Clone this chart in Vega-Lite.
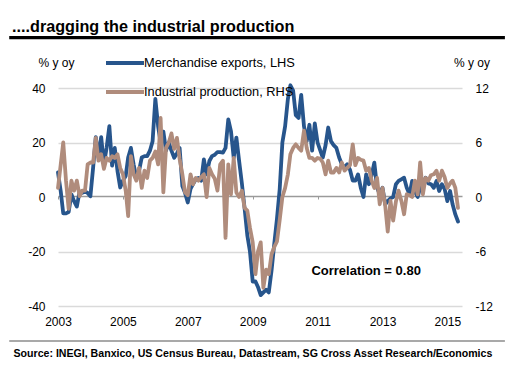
{
"$schema": "https://vega.github.io/schema/vega-lite/v6.json",
"width": 404, "height": 218,
"autosize": {"type": "none"},
"padding": {"left": 58, "top": 88, "right": 64, "bottom": 76},
"background": "white",
"config": {"view": {"stroke": null}, "font": "Liberation Sans"},
"title": {"text": "....dragging the industrial production", "anchor": "start", "frame": "group", "fontSize": 16.2, "fontWeight": "bold", "color": "black", "font": "Liberation Sans", "baseline": "alphabetic", "dx": -46, "offset": -12},
"data": {"values": [
{"date":"2003-01-01","exports":9,"production":1},{"date":"2003-02-01","exports":2,"production":3.6},{"date":"2003-03-01","exports":-6,"production":6},{"date":"2003-04-01","exports":-6,"production":1.8},{"date":"2003-05-01","exports":-5.5,"production":-1.3},{"date":"2003-06-01","exports":1,"production":1.8},{"date":"2003-07-01","exports":-1.5,"production":0.7},{"date":"2003-08-01","exports":-3.5,"production":1.8},{"date":"2003-09-01","exports":2,"production":0.1},{"date":"2003-10-01","exports":1.5,"production":0.7},{"date":"2003-11-01","exports":2,"production":0.7},{"date":"2003-12-01","exports":1.5,"production":3.6},
{"date":"2004-01-01","exports":0.3,"production":3.8},{"date":"2004-02-01","exports":11,"production":3.8},{"date":"2004-03-01","exports":22,"production":6.5},{"date":"2004-04-01","exports":14.5,"production":4},{"date":"2004-05-01","exports":22,"production":4.7},{"date":"2004-06-01","exports":12,"production":3.1},{"date":"2004-07-01","exports":18,"production":4.3},{"date":"2004-08-01","exports":26,"production":4},{"date":"2004-09-01","exports":11.5,"production":4.5},{"date":"2004-10-01","exports":18,"production":4.3},{"date":"2004-11-01","exports":9.5,"production":4.7},{"date":"2004-12-01","exports":3.5,"production":3.2},
{"date":"2005-01-01","exports":6,"production":2.5},{"date":"2005-02-01","exports":7.7,"production":0.7},{"date":"2005-03-01","exports":14.5,"production":-2.1},{"date":"2005-04-01","exports":18,"production":4.5},{"date":"2005-05-01","exports":12,"production":2.5},{"date":"2005-06-01","exports":7,"production":1.8},{"date":"2005-07-01","exports":9.5,"production":3.2},{"date":"2005-08-01","exports":14.5,"production":1},{"date":"2005-09-01","exports":15,"production":2.9},{"date":"2005-10-01","exports":15,"production":2.1},{"date":"2005-11-01","exports":17,"production":4},{"date":"2005-12-01","exports":20.5,"production":4.3},
{"date":"2006-01-01","exports":36,"production":5},{"date":"2006-02-01","exports":26,"production":3.6},{"date":"2006-03-01","exports":20,"production":8.7},{"date":"2006-04-01","exports":24,"production":0.5},{"date":"2006-05-01","exports":17,"production":5.4},{"date":"2006-06-01","exports":20,"production":6},{"date":"2006-07-01","exports":17,"production":7},{"date":"2006-08-01","exports":14.4,"production":5.3},{"date":"2006-09-01","exports":16,"production":6.5},{"date":"2006-10-01","exports":18,"production":4.2},{"date":"2006-11-01","exports":4,"production":2.5},{"date":"2006-12-01","exports":1.5,"production":0.5},
{"date":"2007-01-01","exports":-2,"production":0.2},{"date":"2007-02-01","exports":3,"production":2.5},{"date":"2007-03-01","exports":4.7,"production":1.4},{"date":"2007-04-01","exports":6.5,"production":2.1},{"date":"2007-05-01","exports":7,"production":1.8},{"date":"2007-06-01","exports":6,"production":2.2},{"date":"2007-07-01","exports":13.8,"production":2.5},{"date":"2007-08-01","exports":8.3,"production":0},{"date":"2007-09-01","exports":13.2,"production":3.2},{"date":"2007-10-01","exports":15,"production":2.5},{"date":"2007-11-01","exports":15.5,"production":2},{"date":"2007-12-01","exports":16.5,"production":0.7},
{"date":"2008-01-01","exports":16.5,"production":3.6},{"date":"2008-02-01","exports":16.3,"production":4},{"date":"2008-03-01","exports":18,"production":-4.5},{"date":"2008-04-01","exports":28.5,"production":3.6},{"date":"2008-05-01","exports":24.2,"production":0.3},{"date":"2008-06-01","exports":14.4,"production":4.3},{"date":"2008-07-01","exports":21.8,"production":0.5},{"date":"2008-08-01","exports":13.2,"production":0},{"date":"2008-09-01","exports":5,"production":0.7},{"date":"2008-10-01","exports":-4,"production":-1.2},{"date":"2008-11-01","exports":-14,"production":-1.5},{"date":"2008-12-01","exports":-20,"production":-3.4},
{"date":"2009-01-01","exports":-31,"production":-5},{"date":"2009-02-01","exports":-31,"production":-8.5},{"date":"2009-03-01","exports":-33,"production":-6},{"date":"2009-04-01","exports":-36,"production":-5},{"date":"2009-05-01","exports":-35,"production":-10},{"date":"2009-06-01","exports":-34,"production":-8},{"date":"2009-07-01","exports":-35,"production":-8.5},{"date":"2009-08-01","exports":-27,"production":-6.3},{"date":"2009-09-01","exports":-17,"production":-5.5},{"date":"2009-10-01","exports":-8,"production":-4.9},{"date":"2009-11-01","exports":3,"production":-2.5},{"date":"2009-12-01","exports":20,"production":0},
{"date":"2010-01-01","exports":26,"production":1},{"date":"2010-02-01","exports":36,"production":2.5},{"date":"2010-03-01","exports":41,"production":4.7},{"date":"2010-04-01","exports":39,"production":5.4},{"date":"2010-05-01","exports":30,"production":5.8},{"date":"2010-06-01","exports":29,"production":5.4},{"date":"2010-07-01","exports":37.5,"production":5.1},{"date":"2010-08-01","exports":26,"production":7.3},{"date":"2010-09-01","exports":20.5,"production":5.4},{"date":"2010-10-01","exports":26.5,"production":4.3},{"date":"2010-11-01","exports":17,"production":4.3},{"date":"2010-12-01","exports":27,"production":4},
{"date":"2011-01-01","exports":20,"production":4.3},{"date":"2011-02-01","exports":17,"production":4.2},{"date":"2011-03-01","exports":14.5,"production":3.8},{"date":"2011-04-01","exports":19,"production":2.5},{"date":"2011-05-01","exports":25.5,"production":4},{"date":"2011-06-01","exports":20.5,"production":2.7},{"date":"2011-07-01","exports":19,"production":2.7},{"date":"2011-08-01","exports":18,"production":3.2},{"date":"2011-09-01","exports":14.5,"production":2.7},{"date":"2011-10-01","exports":12,"production":3.8},{"date":"2011-11-01","exports":10.8,"production":2.9},{"date":"2011-12-01","exports":12,"production":3.2},
{"date":"2012-01-01","exports":10,"production":3.5},{"date":"2012-02-01","exports":6,"production":5.8},{"date":"2012-03-01","exports":6,"production":3.5},{"date":"2012-04-01","exports":8.3,"production":4.3},{"date":"2012-05-01","exports":3.4,"production":4.1},{"date":"2012-06-01","exports":0,"production":4},{"date":"2012-07-01","exports":8.3,"production":2.9},{"date":"2012-08-01","exports":4.7,"production":3.2},{"date":"2012-09-01","exports":8,"production":1.8},{"date":"2012-10-01","exports":12.6,"production":1},{"date":"2012-11-01","exports":3.4,"production":2.1},{"date":"2012-12-01","exports":1,"production":-0.8},
{"date":"2013-01-01","exports":3.4,"production":1},{"date":"2013-02-01","exports":-2.7,"production":-1},{"date":"2013-03-01","exports":-1.5,"production":-3.8},{"date":"2013-04-01","exports":-0.5,"production":-0.4},{"date":"2013-05-01","exports":0,"production":-2.6},{"date":"2013-06-01","exports":4.7,"production":-0.5},{"date":"2013-07-01","exports":5.9,"production":0.7},{"date":"2013-08-01","exports":6.5,"production":-0.4},{"date":"2013-09-01","exports":7.1,"production":-1.9},{"date":"2013-10-01","exports":3.4,"production":0.3},{"date":"2013-11-01","exports":1,"production":0.2},{"date":"2013-12-01","exports":5.9,"production":0},
{"date":"2014-01-01","exports":2,"production":1.8},{"date":"2014-02-01","exports":0,"production":0.3},{"date":"2014-03-01","exports":3.4,"production":3.8},{"date":"2014-04-01","exports":4.7,"production":0.3},{"date":"2014-05-01","exports":7.1,"production":2.1},{"date":"2014-06-01","exports":5,"production":1.8},{"date":"2014-07-01","exports":4.7,"production":2.4},{"date":"2014-08-01","exports":3.4,"production":2.5},{"date":"2014-09-01","exports":5.9,"production":2.9},{"date":"2014-10-01","exports":2.2,"production":1.8},{"date":"2014-11-01","exports":4.7,"production":2.9},{"date":"2014-12-01","exports":3,"production":2.2},
{"date":"2015-01-01","exports":-1.5,"production":1},{"date":"2015-02-01","exports":2.2,"production":1.5},{"date":"2015-03-01","exports":-2.7,"production":1.8},{"date":"2015-04-01","exports":-6.4,"production":1},{"date":"2015-05-01","exports":-9,"production":-1.2}
]},
"layer": [
{
"layer": [
{
"data": {"values": [{}]},
"mark": {"type": "rule", "color": "black", "strokeWidth": 3.3},
"encoding": {
"x": {"datum": {"year": 2001, "month": 7, "date": 1}, "type": "temporal", "scale": {"domain": [{"year": 2003, "month": 1, "date": 1}, {"year": 2015, "month": 6, "date": 15}]}},
"x2": {"datum": {"year": 2016, "month": 10, "date": 10}},
"y": {"datum": 58.5, "type": "quantitative", "scale": {"domain": [-40, 40]}}
}
},
{
"data": {"values": [{}]},
"mark": {"type": "rule", "color": "#8c8c8c", "strokeWidth": 1.5},
"encoding": {
"x": {"datum": {"year": 2001, "month": 7, "date": 1}, "type": "temporal", "scale": {"domain": [{"year": 2003, "month": 1, "date": 1}, {"year": 2015, "month": 6, "date": 15}]}},
"x2": {"datum": {"year": 2016, "month": 10, "date": 10}},
"y": {"datum": -52.8, "type": "quantitative", "scale": {"domain": [-40, 40]}}
}
},
{
"mark": {"type": "line", "strokeWidth": 3.8, "strokeJoin": "round", "strokeCap": "round"},
"encoding": {
"x": {"field": "date", "type": "temporal",
"scale": {"domain": [{"year": 2003, "month": 1, "date": 1}, {"year": 2015, "month": 6, "date": 15}]},
"axis": {"orient": "bottom", "offset": -110, "values": [{"year": 2003, "month": 1, "date": 1}, {"year": 2005, "month": 1, "date": 1}, {"year": 2007, "month": 1, "date": 1}, {"year": 2009, "month": 1, "date": 1}, {"year": 2011, "month": 1, "date": 1}, {"year": 2013, "month": 1, "date": 1}, {"year": 2015, "month": 1, "date": 1}],
"format": "%Y", "grid": false, "domain": true, "domainColor": "#9a9a9a", "domainWidth": 1.5,
"ticks": true, "tickColor": "#9a9a9a", "tickSize": 3, "tickWidth": 1,
"labelFont": "Liberation Sans", "labelFontSize": 12, "labelColor": "black", "labelPadding": 117, "labelFlush": false, "labelOverlap": false,
"title": "Source: INEGI, Banxico, US Census Bureau, Datastream, SG Cross Asset Research/Economics",
"titleX": -45, "titleY": 157, "titleAlign": "left", "titleAnchor": "start", "titleBaseline": "middle",
"titleFont": "Liberation Sans", "titleFontSize": 10.6, "titleFontWeight": "bold", "titleColor": "black"}},
"y": {"field": "exports", "type": "quantitative",
"scale": {"domain": [-40, 40]},
"axis": {"orient": "left", "values": [-40, -20, 0, 20, 40], "labelExpr": "'' + datum.value", "domain": false, "ticks": false,
"grid": true, "gridColor": {"condition": {"test": "datum.value === 0", "value": "transparent"}, "value": "#dadada"}, "gridWidth": 1.5,
"labelFont": "Liberation Sans", "labelFontSize": 12, "labelColor": "black", "labelPadding": 13,
"title": "% y oy", "titleAngle": 0, "titleX": -2, "titleY": -26, "titleAlign": "center", "titleBaseline": "middle",
"titleFont": "Liberation Sans", "titleFontSize": 12, "titleFontWeight": "normal", "titleColor": "black"}},
"color": {"datum": "Merchandise exports, LHS", "type": "nominal",
"scale": {"domain": ["Merchandise exports, LHS", "Industrial production, RHS"], "range": ["#27558c", "#b08c7c"]},
"legend": {"orient": "none", "legendX": 46, "legendY": -46, "title": null, "direction": "vertical",
"symbolType": "stroke", "symbolSize": 1444, "symbolStrokeWidth": 4, "padding": 0, "rowPadding": -17, "labelOffset": -2,
"labelFont": "Liberation Sans", "labelFontSize": 12.8, "labelColor": "black", "labelLimit": 300}}
}
},
{
"data": {"values": [{}]},
"mark": {"type": "text", "font": "Liberation Sans", "fontSize": 13, "fontWeight": "bold", "color": "black", "align": "center", "baseline": "middle"},
"encoding": {
"x": {"datum": {"year": 2012, "month": 7, "date": 1}, "type": "temporal", "scale": {"domain": [{"year": 2003, "month": 1, "date": 1}, {"year": 2015, "month": 6, "date": 15}]}},
"y": {"datum": -27.2, "type": "quantitative", "scale": {"domain": [-40, 40]}},
"text": {"value": "Correlation = 0.80"}
}
}
]
},
{
"mark": {"type": "line", "strokeWidth": 3.8, "strokeJoin": "round", "strokeCap": "round"},
"encoding": {
"x": {"field": "date", "type": "temporal", "scale": {"domain": [{"year": 2003, "month": 1, "date": 1}, {"year": 2015, "month": 6, "date": 15}]}},
"y": {"field": "production", "type": "quantitative",
"scale": {"domain": [-12, 12]},
"axis": {"orient": "right", "values": [-12, -6, 0, 6, 12], "labelExpr": "'' + datum.value", "domain": false, "ticks": false, "grid": false,
"labelFont": "Liberation Sans", "labelFontSize": 12, "labelColor": "black", "labelPadding": 13,
"title": "% y oy", "titleAngle": 0, "titleX": 9.5, "titleY": -26, "titleAlign": "center", "titleBaseline": "middle",
"titleFont": "Liberation Sans", "titleFontSize": 12, "titleFontWeight": "normal", "titleColor": "black"}},
"color": {"datum": "Industrial production, RHS", "type": "nominal"}
}
}
],
"resolve": {"scale": {"y": "independent"}}
}
